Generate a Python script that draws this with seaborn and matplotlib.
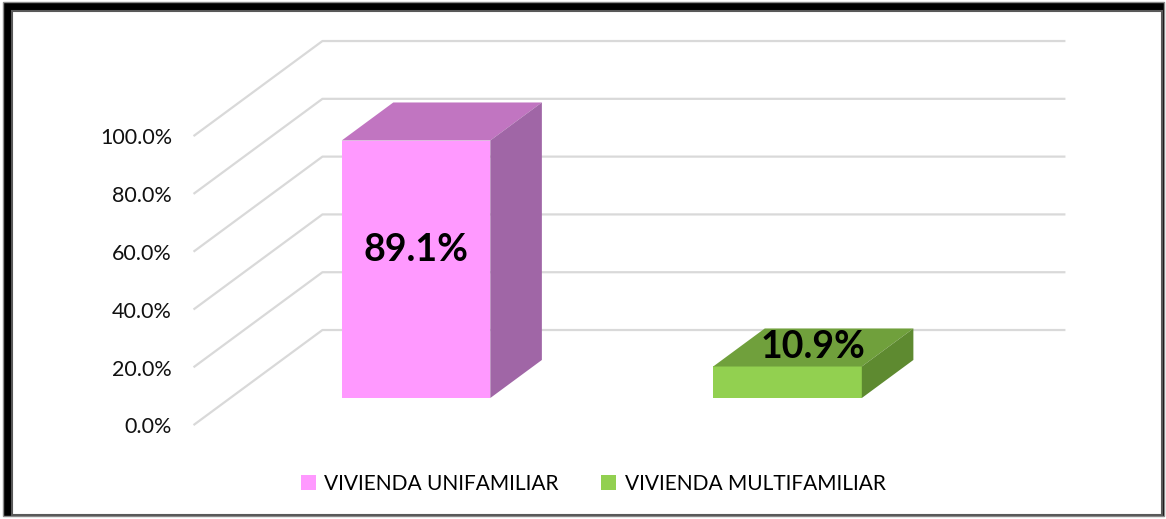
import numpy as np
import seaborn as sns
import matplotlib.pyplot as plt
from matplotlib.patches import Polygon, Rectangle, Patch

categories = ["VIVIENDA UNIFAMILIAR", "VIVIENDA MULTIFAMILIAR"]
values = [0.891, 0.109]
tick_values = [0.0, 0.2, 0.4, 0.6, 0.8, 1.0]

front_colors = ["#FF99FF", "#92D050"]
top_colors = ["#C175C1", "#70A03C"]
side_colors = ["#A066A6", "#5E8A30"]

# fake 3d: depth vector of the whole floor (data units) and where the bars sit in it
depth = np.array([0.347, 0.329])
bar_front = 0.285
bar_back = 0.685
x_range = (-0.5, 1.5)

plt.rcParams['font.family'] = ['Lato', 'DejaVu Sans']

fig = plt.figure(figsize=(11.66, 5.19), dpi=100)
fig.patch.set_facecolor('white')

# chart frame (thick black top/left, thin grey right/bottom)
fig.patches.append(Rectangle((3, 3), 1161, 514, transform=None, facecolor='black',
                             edgecolor='#8c8c8c', lw=1, zorder=-2))
fig.patches.append(Rectangle((12, 4), 1150, 504, transform=None, facecolor='white',
                             edgecolor='#595959', lw=1.5, zorder=-1))

ax = fig.add_axes([0, 0, 1, 1])

# walls / gridlines
front_off = -bar_front * depth
back_off = (1 - bar_front) * depth
for v in tick_values:
    xs = [x_range[0] + front_off[0], x_range[0] + back_off[0], x_range[1] + back_off[0]]
    ys = [v + front_off[1], v + back_off[1], v + back_off[1]]
    ax.plot(xs, ys, color='#D9D9D9', lw=1.6, zorder=0, solid_capstyle='butt')
    ax.text(xs[0] - 0.058, ys[0] - 0.008, "{:.1%}".format(v), ha='right', va='center',
            fontsize=15.5, color='#111111')

sns.barplot(x=categories, y=values, hue=categories, palette=front_colors, width=0.4,
            saturation=1, legend=False, ax=ax, zorder=2)

bar_depth = (bar_back - bar_front) * depth
for i, p in enumerate(ax.patches):
    x0, w, h = p.get_x(), p.get_width(), p.get_height()
    p.set_edgecolor('none')
    top = [(x0, h), (x0 + w, h), (x0 + w + bar_depth[0], h + bar_depth[1]),
           (x0 + bar_depth[0], h + bar_depth[1])]
    side = [(x0 + w, 0), (x0 + w, h), (x0 + w + bar_depth[0], h + bar_depth[1]),
            (x0 + w + bar_depth[0], bar_depth[1])]
    ax.add_patch(Polygon(top, closed=True, facecolor=top_colors[i], edgecolor='none', zorder=3))
    ax.add_patch(Polygon(side, closed=True, facecolor=side_colors[i], edgecolor='none', zorder=3))

    cx = x0 + w / 2
    if h > 0.2:
        lx, ly = cx, h / 2 + bar_depth[1] / 2
    else:
        lx, ly = cx + bar_depth[0] / 2, h + bar_depth[1] / 2
    ax.text(lx, ly, "{:.1%}".format(values[i]), ha='center', va='center',
            fontsize=27, fontweight='bold', color='black', zorder=5)

ax.set_xlim(-1.1198, 2.0188)
ax.set_ylim(-0.4187, 1.3772)
ax.axis('off')

handles = [Patch(facecolor=c, edgecolor='none', label=l) for c, l in zip(front_colors, categories)]
fig.legend(handles=handles, loc='center', bbox_to_anchor=(593 / 1166, 1 - 484 / 519), ncol=2,
           frameon=False, fontsize=15, handlelength=0.75, handleheight=0.75,
           handletextpad=0.4, columnspacing=2.0)

fig.savefig('out.png', dpi=100)
